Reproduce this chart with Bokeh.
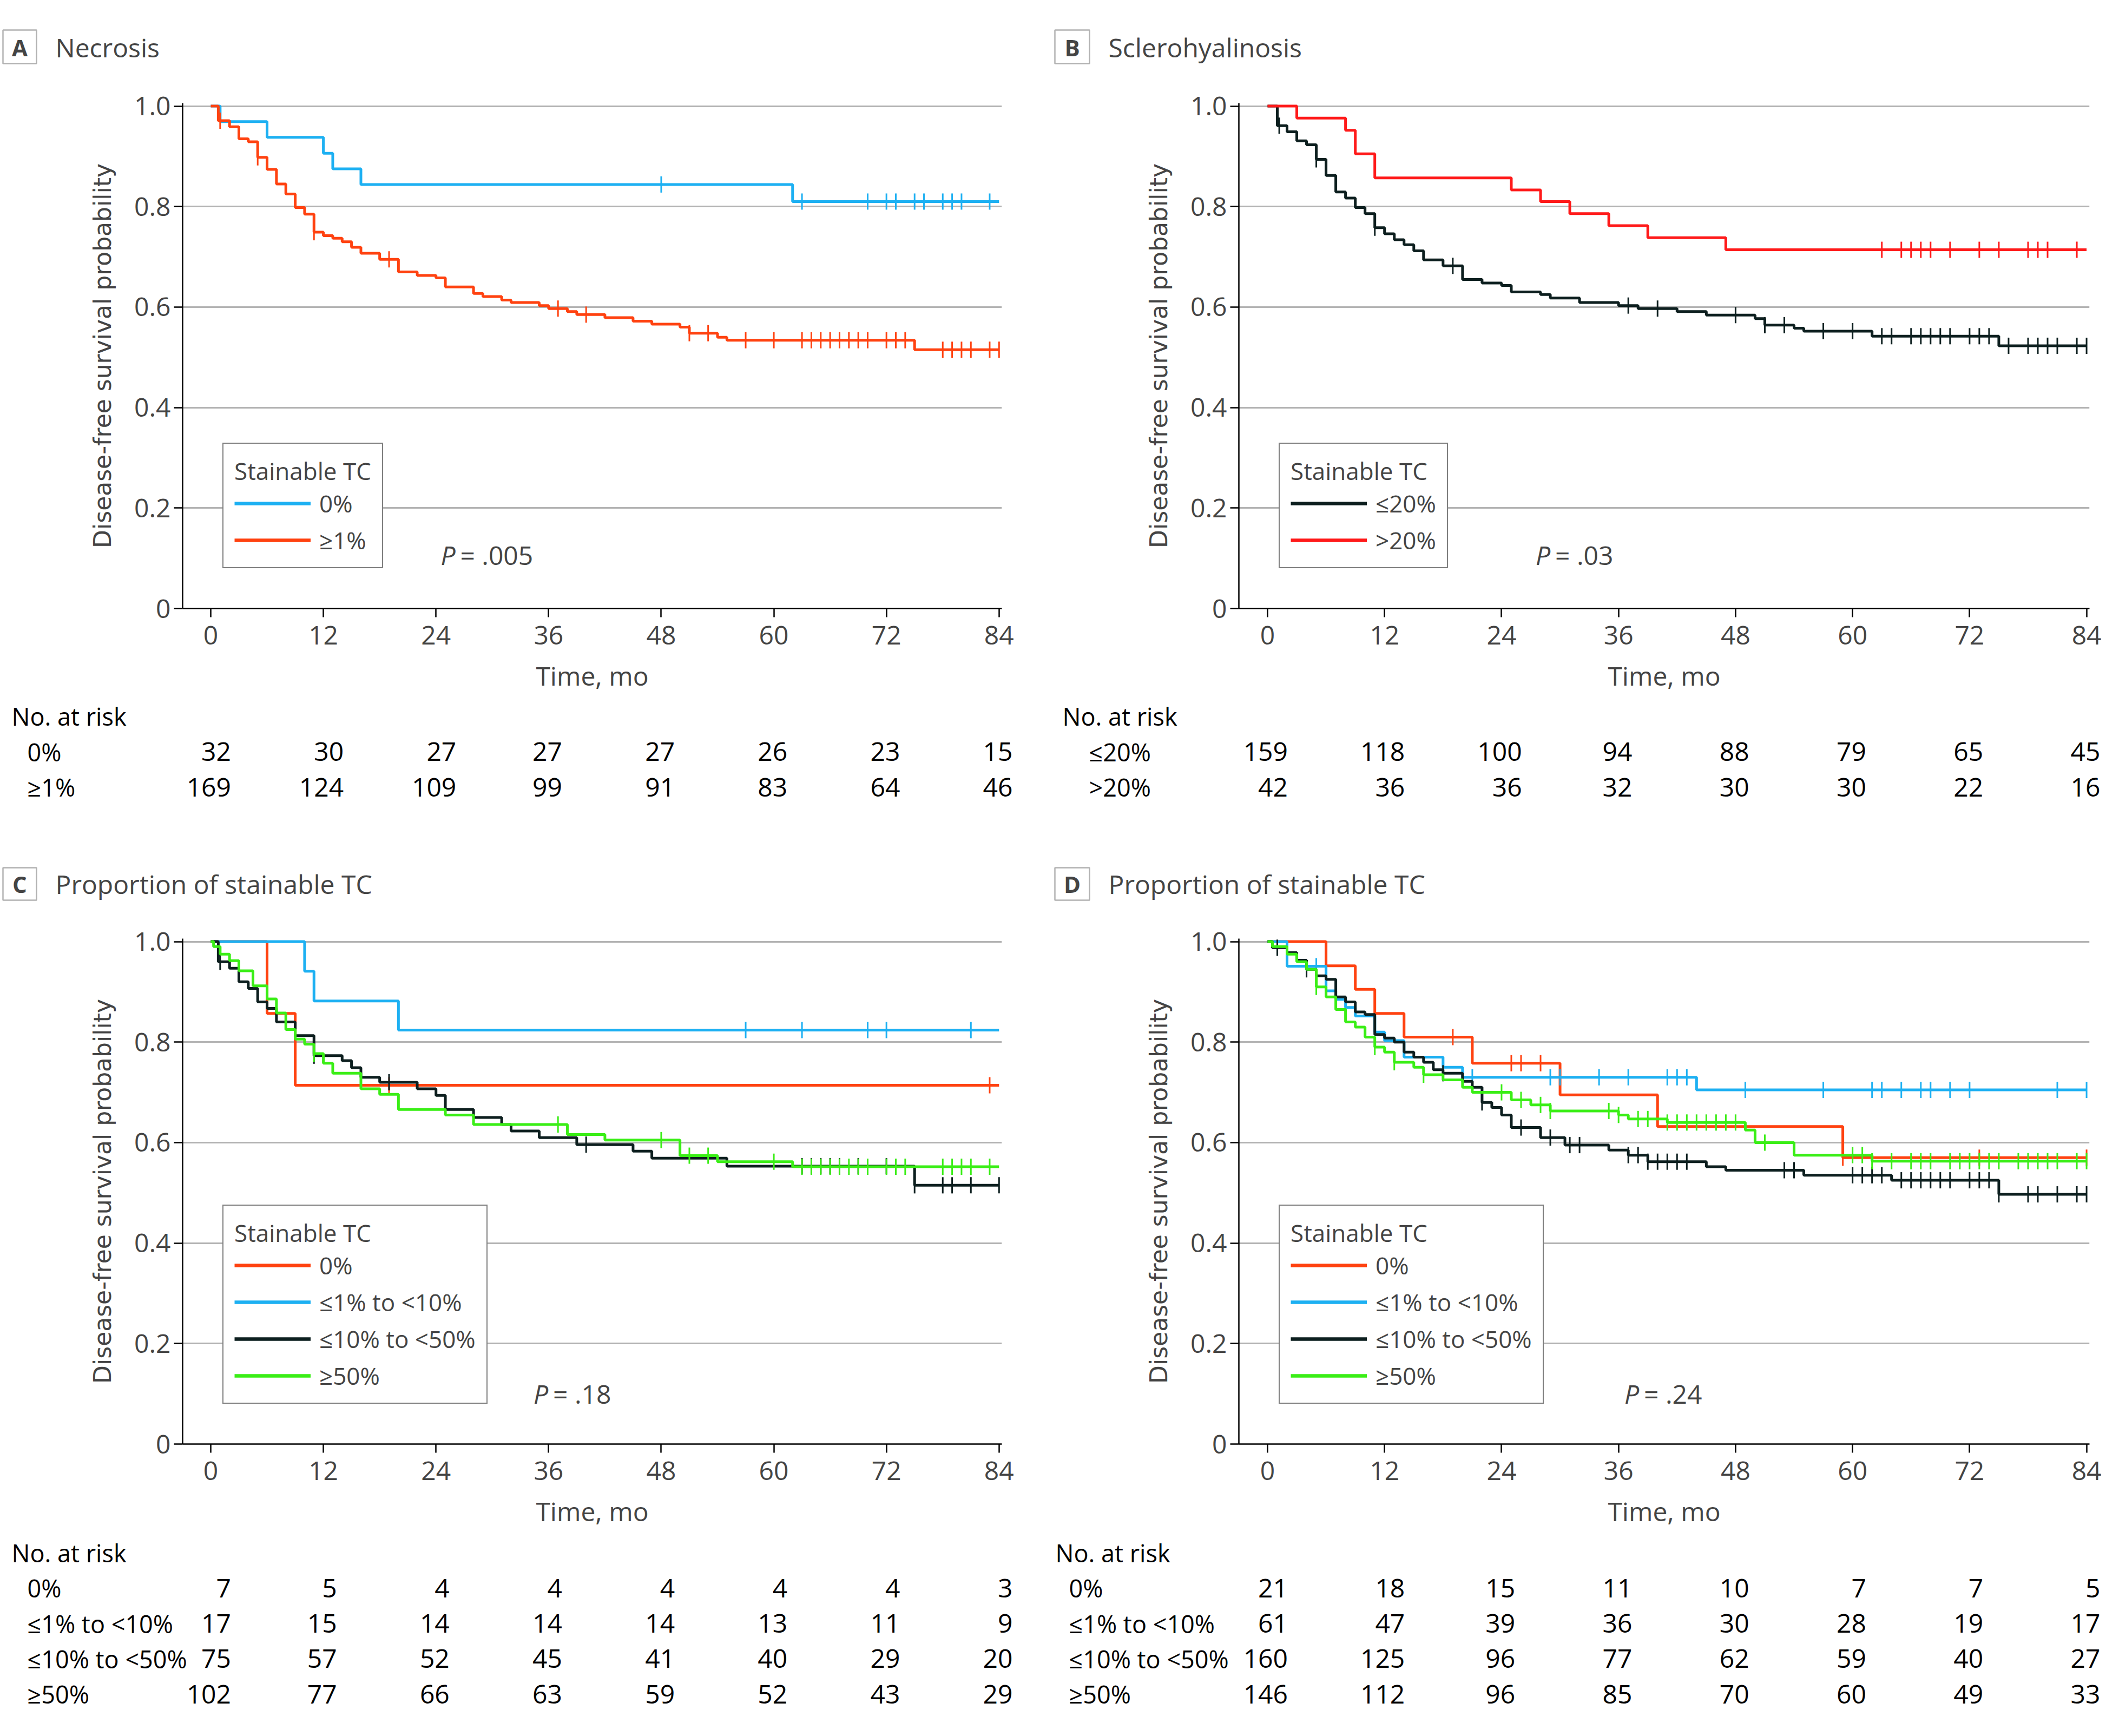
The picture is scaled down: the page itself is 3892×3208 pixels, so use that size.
import numpy as np
from bokeh.plotting import figure
from bokeh.models import (Range1d, FixedTicker, PrintfTickFormatter, Label, Legend,
                          LegendItem, ColumnDataSource, BoxAnnotation, Plot)
from bokeh.layouts import column, row
from bokeh.core.properties import value
from bokeh.embed import file_html
from bokeh.resources import INLINE

# ------------------------------------------------------------------ data
MONTHS = [0, 12, 24, 36, 48, 60, 72, 84]
Y_TICKS = [0, 0.2, 0.4, 0.6, 0.8, 1.0]
FOLLOW_END = 84

# Panel A - Necrosis
A_TITLE = "Necrosis"
A_LABELS = ["0%", "≥1%"]
A_G0_T = [1, 6, 12, 13, 16, 62]
A_G0_S = [0.969, 0.938, 0.906, 0.875, 0.844, 0.810]
A_G0_C = [48, 63, 70, 72, 73, 75, 76, 78, 79, 80, 83]
A_G1_T = [0.8, 2, 3, 4, 5, 6, 7, 8, 9, 10, 11, 12, 13, 14, 15, 16, 18, 20, 22, 24, 25,
          28, 29, 31, 32, 35, 36, 38, 39, 42, 45, 47, 50, 51, 54, 55, 75]
A_G1_S = [0.971, 0.959, 0.935, 0.929, 0.898, 0.874, 0.845, 0.825, 0.798, 0.785, 0.749,
          0.742, 0.737, 0.730, 0.719, 0.707, 0.695, 0.670, 0.663, 0.658, 0.640, 0.627,
          0.621, 0.614, 0.609, 0.603, 0.597, 0.591, 0.585, 0.579, 0.572, 0.566, 0.560,
          0.548, 0.540, 0.534, 0.515]
A_G1_C = [1, 5, 11, 19, 37, 40, 51, 53, 57, 60, 63, 64, 65, 66, 67, 68, 69, 70, 72, 73,
          74, 78, 79, 80, 81, 83, 84]
A_RISK_0 = [32, 30, 27, 27, 27, 26, 23, 15]
A_RISK_1 = [169, 124, 109, 99, 91, 83, 64, 46]
A_P = ".005"

# Panel B - Sclerohyalinosis
B_TITLE = "Sclerohyalinosis"
B_LABELS = ["≤20%", ">20%"]
B_G0_T = [1, 2, 3, 4, 5, 6, 7, 8, 9, 10, 11, 12, 13, 14, 15, 16, 18, 20, 22, 24, 25, 28,
          29, 32, 36, 38, 42, 45, 50, 51, 54, 55, 62, 75]
B_G0_S = [0.961, 0.949, 0.931, 0.923, 0.894, 0.862, 0.829, 0.817, 0.798, 0.786, 0.758,
          0.746, 0.734, 0.724, 0.712, 0.694, 0.682, 0.655, 0.648, 0.643, 0.630, 0.625,
          0.618, 0.609, 0.603, 0.597, 0.591, 0.584, 0.577, 0.564, 0.558, 0.552, 0.542,
          0.523]
B_G0_C = [1.2, 5, 11, 19, 37, 40, 48, 51, 53, 57, 60, 63, 64, 66, 67, 68, 69, 70, 72, 73,
          74, 76, 78, 79, 80, 81, 83, 84]
B_G1_T = [3, 8, 9, 11, 25, 28, 31, 35, 39, 47]
B_G1_S = [0.976, 0.952, 0.905, 0.857, 0.833, 0.810, 0.786, 0.762, 0.738, 0.714]
B_G1_C = [63, 65, 66, 67, 68, 70, 73, 75, 78, 79, 80, 83]
B_RISK_0 = [159, 118, 100, 94, 88, 79, 65, 45]
B_RISK_1 = [42, 36, 36, 32, 30, 30, 22, 16]
B_P = ".03"

# Panel C - Proportion of stainable TC
C_TITLE = "Proportion of stainable TC"
CD_LABELS = ["0%", "≤1% to <10%", "≤10% to <50%", "≥50%"]
C_G0_T = [6, 9]
C_G0_S = [0.857, 0.714]
C_G0_C = [19, 83]
C_G1_T = [10, 11, 20]
C_G1_S = [0.941, 0.882, 0.824]
C_G1_C = [57, 63, 70, 72, 81]
C_G2_T = [0.8, 2, 3, 4, 5, 6, 7, 9, 11, 14, 15, 16, 18, 22, 24, 25, 28, 31, 32, 35, 39,
          45, 47, 55, 75]
C_G2_S = [0.960, 0.947, 0.920, 0.907, 0.880, 0.867, 0.840, 0.813, 0.773, 0.763, 0.749,
          0.730, 0.720, 0.707, 0.694, 0.666, 0.650, 0.636, 0.623, 0.610, 0.596, 0.583,
          0.569, 0.553, 0.515]
C_G2_C = [1, 11, 19, 40, 63, 64, 65, 66, 67, 69, 72, 75, 78, 79, 81, 84]
C_G3_T = [0.3, 1, 2, 3, 4.5, 6, 7, 8, 9, 10, 11, 12, 13, 16, 18, 20, 25, 28, 38, 42, 50,
          54, 62]
C_G3_S = [0.990, 0.975, 0.962, 0.942, 0.912, 0.886, 0.858, 0.825, 0.806, 0.796, 0.777,
          0.758, 0.738, 0.707, 0.696, 0.666, 0.655, 0.636, 0.616, 0.605, 0.574, 0.562,
          0.552]
C_G3_C = [11, 37, 48, 51, 53, 60, 63, 64, 65, 66, 67, 68, 69, 70, 72, 73, 74, 78, 79, 80,
          81, 83]
C_RISK = [[7, 5, 4, 4, 4, 4, 4, 3],
          [17, 15, 14, 14, 14, 13, 11, 9],
          [75, 57, 52, 45, 41, 40, 29, 20],
          [102, 77, 66, 63, 59, 52, 43, 29]]
C_P = ".18"

# Panel D - Proportion of stainable TC
D_TITLE = "Proportion of stainable TC"
D_G0_T = [6, 9, 11, 14, 21, 30, 40, 59]
D_G0_S = [0.952, 0.905, 0.857, 0.810, 0.758, 0.695, 0.632, 0.570]
D_G0_C = [19, 25, 26, 28, 59, 73, 84]
D_G1_T = [2, 6, 7, 8, 9, 11, 12, 14, 18, 20, 44]
D_G1_S = [0.951, 0.902, 0.885, 0.869, 0.852, 0.820, 0.803, 0.770, 0.750, 0.730, 0.705]
D_G1_C = [5, 21, 29, 30, 34, 37, 41, 42, 43, 49, 57, 62, 63, 65, 67, 68, 70, 72, 81, 84]
D_G2_T = [0.5, 2, 3, 4, 5, 6, 7, 8, 9, 10, 11, 12, 13, 14, 15, 16, 17, 18, 20, 21, 22,
          23, 24, 25, 28, 30.5, 35, 37, 39, 45, 47, 55, 64, 75]
D_G2_S = [0.988, 0.978, 0.963, 0.945, 0.932, 0.925, 0.890, 0.880, 0.860, 0.855, 0.815,
          0.808, 0.800, 0.780, 0.770, 0.760, 0.745, 0.738, 0.722, 0.710, 0.680, 0.670,
          0.655, 0.630, 0.610, 0.595, 0.585, 0.575, 0.562, 0.552, 0.545, 0.535, 0.525,
          0.497]
D_G2_C = [1, 4, 7, 18, 22, 26, 29, 31, 32, 37, 38, 39, 40, 41, 42, 43, 53, 54, 60, 61,
          62, 63, 65, 66, 67, 68, 69, 70, 72, 73, 74, 75, 78, 79, 81, 83, 84]
D_G3_T = [0.5, 2, 3, 4, 5, 6, 7, 8, 9, 10, 11, 12, 13, 15, 16, 18, 20, 21, 25, 27, 29,
          36, 37, 41, 49, 50, 54, 62]
D_G3_S = [0.990, 0.975, 0.960, 0.945, 0.910, 0.890, 0.865, 0.840, 0.830, 0.810, 0.790,
          0.780, 0.760, 0.750, 0.735, 0.725, 0.710, 0.700, 0.685, 0.675, 0.663, 0.655,
          0.647, 0.640, 0.625, 0.600, 0.575, 0.563]
D_G3_C = [5, 11, 13, 16, 24, 26, 28, 29, 35, 36, 38, 39, 41, 42, 43, 44, 45, 46, 47, 48,
          51, 60, 61, 62, 64, 66, 67, 68, 70, 71, 72, 73, 74, 75, 77, 78, 79, 80, 81, 83, 84]
D_RISK = [[21, 18, 15, 11, 10, 7, 7, 5],
          [61, 47, 39, 36, 30, 28, 19, 17],
          [160, 125, 96, 77, 62, 59, 40, 27],
          [146, 112, 96, 85, 70, 60, 49, 33]]
D_P = ".24"

# ------------------------------------------------------------------ styling
BLUE = "#1db0f2"
ORANGE = "#ff4210"
RED = "#ff1a1a"
DARK = "#0d1f1f"
GREEN = "#3aee16"
FONT = "Open Sans"
YFONT = "DejaVu Sans"
FS = "48px"
ROW_FS = "45px"
LEG_FS = "44px"
DIGIT_HALF = 12.5          # half a digit's width, for right-aligned number columns

COL_W = 1946
Y_TOP = 1.006
X_END = 84.3
PX_PER_UNIT = 928

TOP_V = dict(title_h=150, title_cy=87, box_top=55, box_bot=117, plot_top=40,
             plot_bottom=166, table_h=270, row0=33, row_step=65.5, p_y=0.107)
BOT_V = dict(title_h=140, title_cy=73, box_top=43, box_bot=103, plot_top=34,
             plot_bottom=167, table_h=373, row0=34, row_step=65.3, p_y=0.10)
LEFT_H = dict(spine=337, x0=389, x84=1846, box_l=5, box_r=67, title_x=102,
              no_x=21, grp_x=50)
RIGHT_H = dict(spine=343, x0=396, x84=1910, box_l=3, box_r=67, title_x=102,
               no_x=17, grp_x=66)
RIGHT_H2 = dict(RIGHT_H, no_x=4, grp_x=29)

NOALIGN = {"frame_align": False} if "frame_align" in Plot.properties() else {}


def surv_at(t_ev, s_ev, t):
    s = 1.0
    for ti, si in zip(t_ev, s_ev):
        if ti <= t:
            s = si
    return s


def blank_fig(w, h, xr, yr):
    f = figure(width=w, height=h, x_range=xr, y_range=yr, x_axis_type=None,
               y_axis_type=None, toolbar_location=None, output_backend="svg",
               min_border=0, title=None, outline_line_color=None, **NOALIGN)
    f.xgrid.visible = False
    f.ygrid.visible = False
    return f


def title_fig(letter, text, hz, vt):
    h = vt["title_h"]
    f = blank_fig(COL_W, h, Range1d(0, COL_W), Range1d(0, h))
    f.add_layout(BoxAnnotation(left=hz["box_l"], right=hz["box_r"],
                               top=h - vt["box_top"], bottom=h - vt["box_bot"],
                               left_units="screen", right_units="screen",
                               top_units="screen", bottom_units="screen",
                               fill_alpha=0, line_color="black", line_width=2.5))
    f.add_layout(Label(x=(hz["box_l"] + hz["box_r"]) / 2, y=h - vt["title_cy"],
                       x_units="screen", y_units="screen", text=letter,
                       text_align="center", text_baseline="middle", text_font=FONT,
                       text_font_size="42px", text_font_style="bold"))
    f.add_layout(Label(x=hz["title_x"], y=h - vt["title_cy"], x_units="screen",
                       y_units="screen", text=text, text_align="left",
                       text_baseline="middle", text_font=FONT, text_font_size=FS))
    return f


def plot_fig(curves, labels, p_val, p_x, hz, vt):
    ppm = (hz["x84"] - hz["x0"]) / 84.0
    x_start = -(hz["x0"] - hz["spine"]) / ppm
    frame_w = int(round((X_END - x_start) * ppm))
    frame_h = int(round(Y_TOP * PX_PER_UNIT))
    p = figure(frame_width=frame_w, frame_height=frame_h,
               x_range=Range1d(x_start, X_END), y_range=Range1d(0, Y_TOP),
               min_border_left=hz["spine"], min_border_right=COL_W - hz["spine"] - frame_w,
               min_border_top=vt["plot_top"], min_border_bottom=vt["plot_bottom"],
               toolbar_location=None, output_backend="svg", title=None,
               outline_line_color=None, **NOALIGN)
    p.xgrid.visible = False
    p.ygrid.ticker = FixedTicker(ticks=Y_TICKS)
    p.ygrid.grid_line_color = "#b3b3b3"
    p.ygrid.grid_line_width = 3

    for ax in (p.xaxis[0], p.yaxis[0]):
        ax.axis_line_width = 2.5
        ax.major_tick_line_width = 2.5
        ax.major_tick_in = 0
        ax.major_tick_out = 16
        ax.minor_tick_line_color = None
        ax.major_label_text_font = FONT
        ax.major_label_text_font_size = FS
        ax.axis_label_text_font_style = "normal"
    p.xaxis.ticker = FixedTicker(ticks=MONTHS)
    p.xaxis.major_label_standoff = 16
    p.xaxis.axis_label = "Time, mo"
    p.xaxis.axis_label_text_font = FONT
    p.xaxis.axis_label_text_font_size = FS
    p.xaxis.axis_label_standoff = 22
    p.yaxis.ticker = FixedTicker(ticks=Y_TICKS)
    p.yaxis.formatter = PrintfTickFormatter(format="%.1f")
    p.yaxis.major_label_overrides = {0: "0"}
    p.yaxis.major_label_standoff = 6
    p.yaxis.axis_label = "Disease-free survival probability"
    p.yaxis.axis_label_text_font = YFONT
    p.yaxis.axis_label_text_font_size = "44px"
    p.yaxis.axis_label_standoff = 30

    items = []
    for (t_ev, s_ev, cens, color), lab in zip(curves, labels):
        xs = [0] + list(t_ev) + [FOLLOW_END]
        ys = [1.0] + list(s_ev) + [s_ev[-1]]
        p.step(x=xs, y=ys, mode="after", line_color=color, line_width=5)
        cy = [surv_at(t_ev, s_ev, c) for c in cens]
        p.scatter(x=cens, y=cy, marker="dash", angle=np.pi / 2, size=30,
                  line_color=color, line_width=3)
        lr = p.line(x=np.array([np.nan]), y=np.array([np.nan]), line_color=color,
                    line_width=6.5)
        items.append(LegendItem(label=lab, renderers=[lr]))

    leg = Legend(items=items, location=(74, 74), title="Stainable TC",
                 title_text_font=FONT, title_text_font_size=LEG_FS,
                 title_text_font_style="normal", title_standoff=0,
                 label_text_font=FONT, label_text_font_size=LEG_FS,
                 glyph_width=141, glyph_height=50, label_height=50,
                 label_standoff=16, spacing=8, padding=20, margin=0,
                 border_line_color="black", border_line_width=2.5,
                 background_fill_alpha=1)
    p.add_layout(leg)

    p.add_layout(Label(x=p_x, y=vt["p_y"], text="P", text_font=FONT, text_font_size=FS,
                       text_font_style="italic", text_baseline="middle"))
    p.add_layout(Label(x=p_x, y=vt["p_y"], x_offset=36, text="= " + p_val,
                       text_font=FONT, text_font_size=FS, text_baseline="middle"))
    return p


def table_fig(labels, risks, hz, vt):
    ppm = (hz["x84"] - hz["x0"]) / 84.0
    h = vt["table_h"]
    f = blank_fig(COL_W, h, Range1d(-hz["x0"] / ppm, (COL_W - hz["x0"]) / ppm),
                  Range1d(h, 0))

    def px2x(px):
        return (px - hz["x0"]) / ppm

    row_y = [vt["row0"] + (i + 1) * vt["row_step"] for i in range(len(labels))]
    f.text(x=[px2x(hz["no_x"])], y=[vt["row0"]], text=["No. at risk"],
           text_font=value(FONT), text_font_size=ROW_FS, text_baseline="middle",
           text_align="left", text_color="black")
    f.text(x=[px2x(hz["grp_x"])] * len(labels), y=row_y, text=labels,
           text_font=value(FONT), text_font_size=ROW_FS, text_baseline="middle",
           text_align="left", text_color="black")
    # each column: numbers right-aligned to each other, block centred on the tick
    col_off = [max(len(str(r[j])) for r in risks) * DIGIT_HALF for j in range(len(MONTHS))]
    xs, ys, ts, offs = [], [], [], []
    for yy, counts in zip(row_y, risks):
        for j, (m, n) in enumerate(zip(MONTHS, counts)):
            xs.append(m)
            ys.append(yy)
            ts.append(str(n))
            offs.append(col_off[j])
    src = ColumnDataSource(dict(x=xs, y=ys, t=ts, off=offs))
    f.text(x="x", y="y", text="t", source=src, text_font=value(FONT),
           text_font_size=FS, text_baseline="middle", text_align="right",
           x_offset="off", text_color="black")
    return f


def panel(letter, title, curves, labels, risks, p_val, p_x, hz, vt):
    return column(title_fig(letter, title, hz, vt),
                  plot_fig(curves, labels, p_val, p_x, hz, vt),
                  table_fig(labels, risks, hz, vt), spacing=0)


pA = panel("A", A_TITLE,
           [(A_G0_T, A_G0_S, A_G0_C, BLUE), (A_G1_T, A_G1_S, A_G1_C, ORANGE)],
           A_LABELS, [A_RISK_0, A_RISK_1], A_P, 24.5, LEFT_H, TOP_V)
pB = panel("B", B_TITLE,
           [(B_G0_T, B_G0_S, B_G0_C, DARK), (B_G1_T, B_G1_S, B_G1_C, RED)],
           B_LABELS, [B_RISK_0, B_RISK_1], B_P, 27.5, RIGHT_H, TOP_V)
pC = panel("C", C_TITLE,
           [(C_G0_T, C_G0_S, C_G0_C, ORANGE), (C_G1_T, C_G1_S, C_G1_C, BLUE),
            (C_G2_T, C_G2_S, C_G2_C, DARK), (C_G3_T, C_G3_S, C_G3_C, GREEN)],
           CD_LABELS, C_RISK, C_P, 34.4, LEFT_H, BOT_V)
pD = panel("D", D_TITLE,
           [(D_G0_T, D_G0_S, D_G0_C, ORANGE), (D_G1_T, D_G1_S, D_G1_C, BLUE),
            (D_G2_T, D_G2_S, D_G2_C, DARK), (D_G3_T, D_G3_S, D_G3_C, GREEN)],
           CD_LABELS, D_RISK, D_P, 36.6, RIGHT_H2, BOT_V)

layout = column(row(pA, pB, spacing=0), row(pC, pD, spacing=0), spacing=0)

with open("out.html", "w") as fh:
    fh.write(file_html(layout, INLINE))
